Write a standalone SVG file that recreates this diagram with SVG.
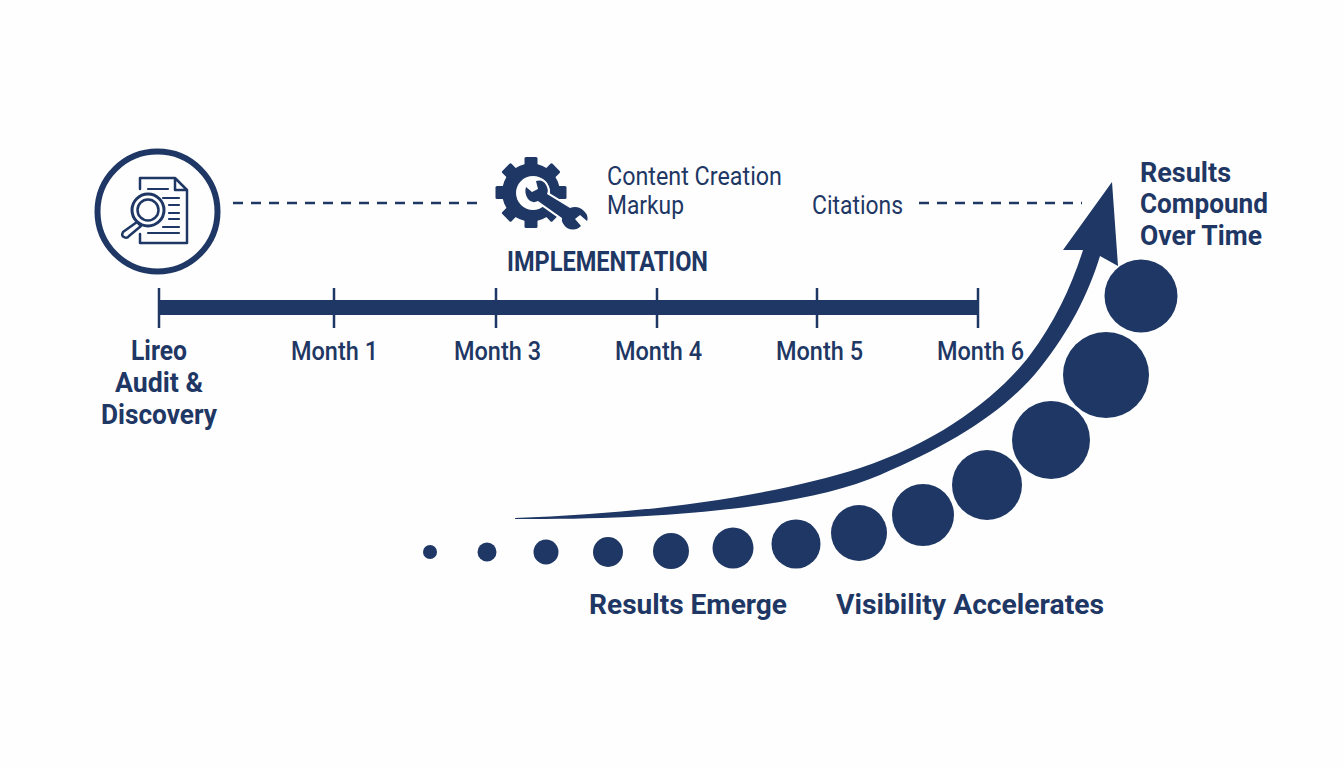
<svg xmlns="http://www.w3.org/2000/svg" width="1344" height="768" viewBox="0 0 1344 768">
<style>
text{font-family:Roboto,"Liberation Sans",sans-serif;fill:#1e3764;text-anchor:middle}
.b{font-size:28px;font-weight:700}
.m{font-size:26px;font-weight:500}
.r{font-size:26px;font-weight:400}
.s{text-anchor:start}
.d{fill:#1e3764}
.o{fill:none;stroke:#1e3764;stroke-linecap:round;stroke-linejoin:round}
.t{stroke:#1e3764;stroke-width:2.5}
.dash{stroke:#1e3764;stroke-width:2.5;stroke-dasharray:10 8;fill:none}
</style>
<defs><rect id="tooth" x="-6.5" y="-35.5" width="13" height="14" rx="1.5"/></defs>
<rect width="1344" height="768" fill="#fefefe"/>
<g id="connectors">
<path class="dash" d="M233 203H480"/>
<path class="dash" d="M919 203H1082"/>
</g>
<g id="audit-icon">
<circle cx="157.5" cy="211.5" r="60" fill="none" stroke="#1e3764" stroke-width="6"/>
<path class="o" stroke-width="2.5" d="M140 189V178H175L187 190V243H140V234M175 178V190H187"/>
<path class="o" stroke-width="2.2" d="M148 189H168M163 198H179M169 205H179M169 213H179M169 219H179M163 227H179M148 233H179"/>
<circle cx="148" cy="210" r="16" fill="#fefefe" stroke="#1e3764" stroke-width="3"/>
<circle cx="148" cy="210" r="10.5" fill="none" stroke="#1e3764" stroke-width="2.5"/>
<path class="o" stroke-width="2.5" d="M137 222L123 232Q121 236 124 237Q127 239 129 236L141 226Z"/>
</g>
<g id="timeline">
<rect class="d" x="159" y="300" width="819" height="15"/>
<path class="t" d="M159 288V328M334 288V328M496 288V328M657 288V328M817 288V328M978 288V328"/>
</g>
<g id="implementation">
<g class="d" transform="translate(531 192.5)">
<circle r="29"/>
<use href="#tooth"/>
<use href="#tooth" transform="rotate(45)"/>
<use href="#tooth" transform="rotate(90)"/>
<use href="#tooth" transform="rotate(135)"/>
<use href="#tooth" transform="rotate(180)"/>
<use href="#tooth" transform="rotate(225)"/>
<use href="#tooth" transform="rotate(270)"/>
<use href="#tooth" transform="rotate(315)"/>
</g>
<circle cx="533" cy="193" r="17" fill="#fefefe"/>
<path class="d" stroke="#fefefe" stroke-width="4" paint-order="stroke" d="M526 187L532 192L538 189L536 181Q543 179 546 185Q549 190 547 194L570 208Q578 205 584 211Q589 216 587 221L580 215L575 219L581 226Q575 232 567 228Q561 223 562 218L538 201Q532 204 528 199Q524 193 526 187Z"/>
<text class="r s" x="607" y="185" textLength="175" lengthAdjust="spacingAndGlyphs">Content Creation</text>
<text class="r s" x="607" y="214" textLength="77" lengthAdjust="spacingAndGlyphs">Markup</text>
<text class="b s" x="507" y="271" textLength="201" lengthAdjust="spacingAndGlyphs">IMPLEMENTATION</text>
</g>
<text class="r s" x="812" y="214" textLength="91" lengthAdjust="spacingAndGlyphs">Citations</text>
<g id="labels">
<text class="b s" x="131" y="360" textLength="56" lengthAdjust="spacingAndGlyphs">Lireo</text>
<text class="b s" x="115" y="392" textLength="88" lengthAdjust="spacingAndGlyphs">Audit &amp;</text>
<text class="b s" x="101" y="424" textLength="116" lengthAdjust="spacingAndGlyphs">Discovery</text>
<text class="m s" x="291" y="360" textLength="87" lengthAdjust="spacingAndGlyphs">Month 1</text>
<text class="m s" x="454" y="360" textLength="87" lengthAdjust="spacingAndGlyphs">Month 3</text>
<text class="m s" x="615" y="360" textLength="87" lengthAdjust="spacingAndGlyphs">Month 4</text>
<text class="m s" x="776" y="360" textLength="87" lengthAdjust="spacingAndGlyphs">Month 5</text>
<text class="m s" x="937" y="360" textLength="87" lengthAdjust="spacingAndGlyphs">Month 6</text>
</g>
<g id="growth-arrow">
<path class="d" d="M515 518C640 514 770 497 860 468C940 442 1000 395 1030 355C1055 322 1072 285 1083 250L1063 250L1112 182L1118 266L1100 256C1088 295 1070 330 1040 368C1005 412 950 445 880 475C810 505 680 520 515 519Z"/>
</g>
<g id="dots" class="d">
<circle cx="430" cy="552" r="7"/>
<circle cx="487" cy="552" r="9.5"/>
<circle cx="546" cy="552" r="12.5"/>
<circle cx="608" cy="552" r="15"/>
<circle cx="671" cy="551" r="18"/>
<circle cx="733" cy="548" r="20.5"/>
<circle cx="796" cy="544" r="24.5"/>
<circle cx="859" cy="533" r="28"/>
<circle cx="923" cy="515" r="31"/>
<circle cx="987" cy="485" r="35"/>
<circle cx="1051" cy="440" r="39"/>
<circle cx="1106" cy="375" r="43"/>
<circle cx="1141" cy="296" r="36.5"/>
</g>
<g id="results">
<text class="b s" x="1140" y="182" textLength="91" lengthAdjust="spacingAndGlyphs">Results</text>
<text class="b s" x="1140" y="213" textLength="128" lengthAdjust="spacingAndGlyphs">Compound</text>
<text class="b s" x="1140" y="245" textLength="122" lengthAdjust="spacingAndGlyphs">Over Time</text>
<text class="b s" x="589" y="614" textLength="198" lengthAdjust="spacingAndGlyphs">Results Emerge</text>
<text class="b s" x="836" y="614" textLength="268" lengthAdjust="spacingAndGlyphs">Visibility Accelerates</text>
</g>
</svg>
